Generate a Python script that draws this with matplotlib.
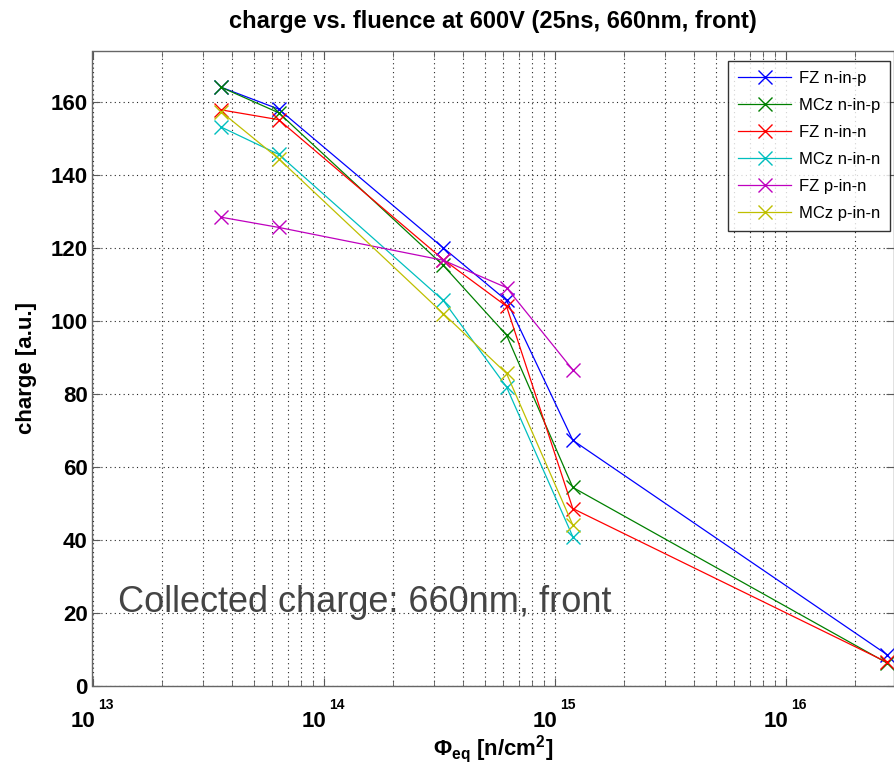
import matplotlib
matplotlib.use("Agg")
import matplotlib.pyplot as plt
import matplotlib.transforms as mtransforms
import numpy as np

plt.rcParams['font.family'] = ['Liberation Sans', 'DejaVu Sans']
plt.rcParams['mathtext.fontset'] = 'custom'
plt.rcParams['mathtext.rm'] = 'Liberation Sans:bold'
plt.rcParams['mathtext.bf'] = 'Liberation Sans:bold'
plt.rcParams['mathtext.it'] = 'Liberation Sans:bold'

fluence = [3.6e13, 6.4e13, 3.3e14, 6.2e14, 1.2e15, 2.75e16]

series_names = ["FZ n-in-p", "MCz n-in-p", "FZ n-in-n", "MCz n-in-n", "FZ p-in-n", "MCz p-in-n"]
fz_n_in_p = [164.0, 158.0, 120.0, 105.6, 67.3, 8.6]
mcz_n_in_p = [164.0, 157.0, 115.2, 96.1, 54.4, 6.3]
fz_n_in_n = [157.8, 155.1, 116.8, 104.0, 48.6, 6.5]
mcz_n_in_n = [153.1, 145.6, 105.6, 81.9, 40.9]
fz_p_in_n = [128.4, 125.6, 116.6, 109.1, 86.6]
mcz_p_in_n = [157.3, 144.4, 102.0, 85.6, 44.1]
all_series = [fz_n_in_p, mcz_n_in_p, fz_n_in_n, mcz_n_in_n, fz_p_in_n, mcz_p_in_n]
colors = ['#0000ff', '#008000', '#ff0000', '#00bfbf', '#bf00bf', '#bfbf00']

y_ticks = [0, 20, 40, 60, 80, 100, 120, 140, 160]
x_ticks = [1e13, 1e14, 1e15, 1e16]
x_exponents = ['13', '14', '15', '16']

fig = plt.figure(figsize=(8.95, 7.67), dpi=100)
W, H = 895, 767
left, right, bottom, top = 92.5, 894, 686, 50.7
ax = fig.add_axes([left / W, 1 - bottom / H, (right - left) / W, (bottom - top) / H])

for name, vals, c in zip(series_names, all_series, colors):
    ax.plot(fluence[:len(vals)], vals, color=c, lw=0.9, marker='x', ms=10, mew=1.0, label=name)

ax.set_xscale('log')
ax.set_xlim(1e13, 10 ** (13 + (right - left) / 231.0))
ax.set_ylim(0, 174)
ax.set_yticks(y_ticks)
ax.set_yticklabels([str(v) for v in y_ticks], fontweight='bold', fontsize=16)
ax.set_xticks(x_ticks)
ax.set_xticklabels([''] * len(x_ticks))
ax.xaxis.set_minor_locator(matplotlib.ticker.LogLocator(base=10, subs=np.arange(2, 10)))
ax.xaxis.set_minor_formatter(matplotlib.ticker.NullFormatter())

# x tick labels drawn as "10" with a raised exponent (MATLAB style)
xt = ax.get_xaxis_transform()
for xv, ex in zip(x_ticks, x_exponents):
    t1 = mtransforms.offset_copy(xt, fig=fig, x=2.5 * 0.72, y=-41 * 0.72, units='points')
    ax.text(xv, 0, '10', transform=t1, ha='right', va='baseline', fontsize=16, fontweight='bold',
            clip_on=False)
    t2 = mtransforms.offset_copy(xt, fig=fig, x=5.5 * 0.72, y=-23 * 0.72, units='points')
    ax.text(xv, 0, ex, transform=t2, ha='left', va='baseline', fontsize=10, fontweight='bold',
            clip_on=False)

ax.tick_params(which='both', direction='in', top=True, right=True, color='0.35')
ax.tick_params(which='major', length=6, width=0.8)
ax.tick_params(which='minor', length=4, width=0.6)
for s in ax.spines.values():
    s.set_color('0.4')
    s.set_linewidth(1.0)

ax.grid(True, which='major', axis='both', color='0.15', ls=(0, (1, 3)), lw=0.8)
ax.grid(True, which='minor', axis='x', color='0.15', ls=(0, (1, 3)), lw=0.8)
ax.set_axisbelow(True)

ax.set_title('charge vs. fluence at 600V (25ns, 660nm, front)', fontsize=17, fontweight='bold', pad=16)
ax.set_ylabel('charge [a.u.]', fontsize=16, fontweight='bold', labelpad=10)
ax.set_xlabel(r'$\Phi_{eq}$ [n/cm$^2$]', fontsize=16, fontweight='bold', labelpad=30)

leg = ax.legend(loc='upper right', bbox_to_anchor=(890 / W, 1 - 60.7 / H), bbox_transform=fig.transFigure,
                fontsize=12, frameon=True, fancybox=False, edgecolor='black',
                borderaxespad=0, handlelength=3.2, handletextpad=0.45, labelspacing=0.72,
                borderpad=0.6)
leg.get_frame().set_linewidth(1.0)

fig.text(118 / W, 1 - 603 / H, 'Collected charge: 660nm, front', fontsize=26, color='#444444',
         va='center', ha='left')

fig.savefig('out.png', dpi=100)
